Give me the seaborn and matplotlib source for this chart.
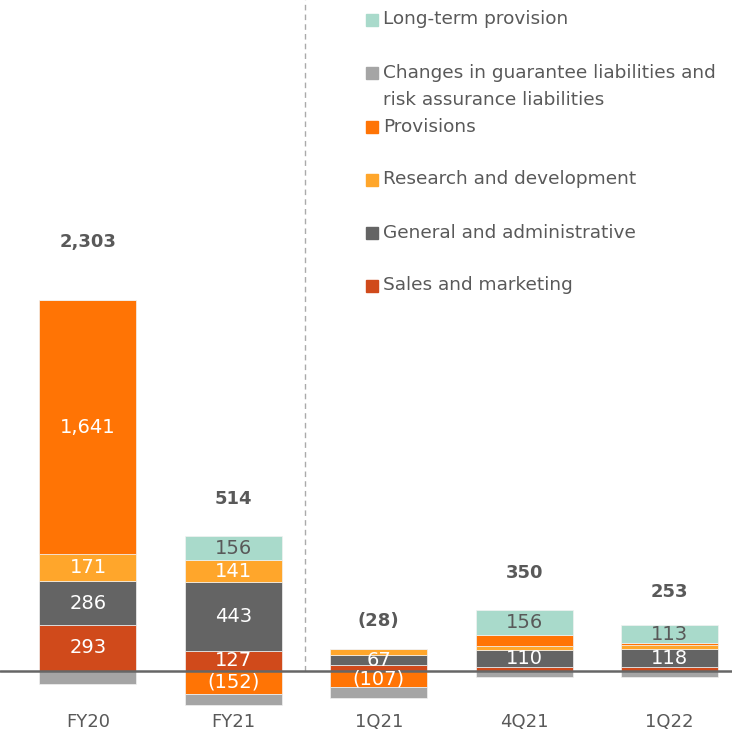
import numpy as np
import matplotlib.pyplot as plt
import matplotlib.patches as mpatches
import seaborn as sns

sns.set_theme(style="white")
plt.rcParams['font.family'] = ['DejaVu Sans']

# =========================
# DATA
# =========================
periods = ["FY20", "FY21", "1Q21", "4Q21", "1Q22"]
sales_marketing = [293, 127, 35, 26, 22]
general_admin = [286, 443, 67, 110, 118]
research_dev = [171, 141, 39, 26, 26]
provisions = [1641, -152, -107, 71, 13]
long_term = [0, 156, 0, 156, 113]
guarantee_changes = [-88, -67, -67, -43, -39]
totals = ["2,303", "514", "(28)", "350", "253"]

# value labels shown inside segments (None = not shown)
lbl_sales = [293, 127, None, None, None]
lbl_ga = [286, 443, 67, 110, 118]
lbl_rd = [171, 141, None, None, None]
lbl_prov = [1641, -152, -107, None, None]
lbl_lt = [None, 156, None, 156, 113]

# =========================
# STYLE
# =========================
TXT = "#595959"
C_LT = "#A9DACB"
C_GUAR = "#A5A5A5"
C_PROV = "#FF7405"
C_RD = "#FFA62B"
C_GA = "#646464"
C_SM = "#D04A1B"


def fmt(v):
    return f"({abs(v):,})" if v < 0 else f"{v:,}"


fig = plt.figure(figsize=(7.32, 7.33), dpi=100)
W, H = 732, 733
ax = fig.add_axes([0, 23 / H, 1, 710 / H])
x = np.arange(len(periods))
bw = 0.667

layers = [
    (sales_marketing, C_SM, lbl_sales, "white"),
    (general_admin, C_GA, lbl_ga, "white"),
    (research_dev, C_RD, lbl_rd, "white"),
    (provisions, C_PROV, lbl_prov, "white"),
    (long_term, C_LT, lbl_lt, TXT),
    (guarantee_changes, C_GUAR, [None] * 5, "white"),
]

pos_base = np.zeros(len(periods))
neg_base = np.zeros(len(periods))
for vals, col, lbls, tcol in layers:
    vals = np.array(vals, dtype=float)
    bottoms = np.where(vals >= 0, pos_base, neg_base)
    ax.bar(x, vals, bw, bottom=bottoms, color=col, edgecolor="#F2F2F2",
           linewidth=0.5, zorder=2)
    for i, (v, b, l) in enumerate(zip(vals, bottoms, lbls)):
        if l is not None:
            ax.text(x[i], b + v / 2, fmt(l), ha="center", va="center",
                    color=tcol, fontsize=14, zorder=4)
    pos_base = pos_base + np.where(vals >= 0, vals, 0)
    neg_base = neg_base + np.where(vals < 0, vals, 0)

# totals above stacks
total_pad_px = [58, 37, 28, 37, 33]
for i, t in enumerate(totals):
    ax.annotate(t, (x[i], pos_base[i]), xytext=(0, total_pad_px[i] * 0.72),
                textcoords="offset points", ha="center", va="center",
                fontsize=13, fontweight="bold", color=TXT)

ax.axhline(0, color="#666666", lw=1.8, zorder=3)
ax.axvline(1.49, ymin=(0 + 253.5) / (4327 + 253.5), color="#AAAAAA",
           lw=1, ls=(0, (4, 3)), zorder=1)

ax.set_xlim(-0.605, 4.43)
ax.set_ylim(-253.5, 4327)
ax.set_xticks(x)
ax.set_xticklabels(periods, fontsize=13, color=TXT)
ax.tick_params(axis="x", length=0, pad=2)
ax.set_yticks([])
for s in ax.spines.values():
    s.set_visible(False)

# legend (drawn manually)
legend_items = [
    ("Long-term provision", C_LT, 20),
    ("Changes in guarantee liabilities and\nrisk assurance liabilities", C_GUAR, 73),
    ("Provisions", C_PROV, 127),
    ("Research and development", C_RD, 180),
    ("General and administrative", C_GA, 233),
    ("Sales and marketing", C_SM, 286),
]
for label, col, ypx in legend_items:
    fig.patches.append(mpatches.Rectangle((366 / W, 1 - (ypx + 6) / H),
                                          12 / W, 12 / H, color=col,
                                          transform=fig.transFigure))
    fig.text(383 / W, 1 - (ypx - 9.5) / H, label, ha="left", va="top",
             fontsize=13.3, color=TXT, linespacing=1.65)

fig.savefig("out.png", dpi=100)
